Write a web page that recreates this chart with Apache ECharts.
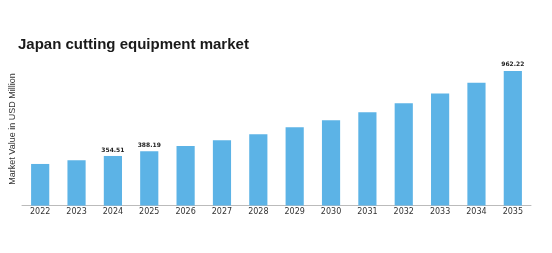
<!DOCTYPE html>
<html><head><meta charset="utf-8">
<script src="https://cdn.jsdelivr.net/npm/echarts@6/dist/echarts.min.js"></script>
<style>html,body{margin:0;padding:0;background:#fff}#c{width:552px;height:253px}</style>
</head><body><div id="c"></div>
<script>
const years = ['2022','2023','2024','2025','2026','2027','2028','2029','2030','2031','2032','2033','2034','2035'];
const values = [297.4, 323.9, 354.51, 388.19, 426.0, 467.0, 510.0, 560.0, 610.0, 667.0, 731.0, 800.0, 877.0, 962.22];
const labeled = ['2024','2025','2035'];
const title = 'Japan cutting equipment market';
const yName = 'Market Value in USD Million';

const chart = echarts.init(document.getElementById('c'), null, {renderer:'canvas'});
chart.setOption({
  animation:false,
  title:{text:title,left:18,top:37.5,padding:0,textStyle:{fontFamily:'Liberation Sans, Arial',fontWeight:'bold',fontSize:15,color:'#1a1a1a'}},
  grid:{left:22,right:21,top:65.6,bottom:47.4},
  xAxis:{type:'category',data:years,
    axisLine:{lineStyle:{color:'#bbb',width:1}},axisTick:{show:false},
    axisLabel:{fontFamily:'DejaVu Sans',fontSize:8,color:'#333',margin:2.5}},
  yAxis:{type:'value',min:0,max:1000,show:false},
  graphic:[{type:'text',x:13,y:129,rotation:Math.PI/2,
    style:{text:yName,fontFamily:'Liberation Sans, Arial',fontSize:9,fill:'#333',align:'center',verticalAlign:'middle'}}],
  series:[{type:'bar',data:values.map((v,i)=>({value:v,label:{show:labeled.includes(years[i])}})),
    barWidth:'50%',itemStyle:{color:'#5cb3e6'},
    label:{position:'top',distance:3,fontFamily:'DejaVu Sans',fontWeight:'bold',fontSize:6,color:'#222',formatter:p=>p.value.toFixed(2)}}]
});
</script></body></html>
